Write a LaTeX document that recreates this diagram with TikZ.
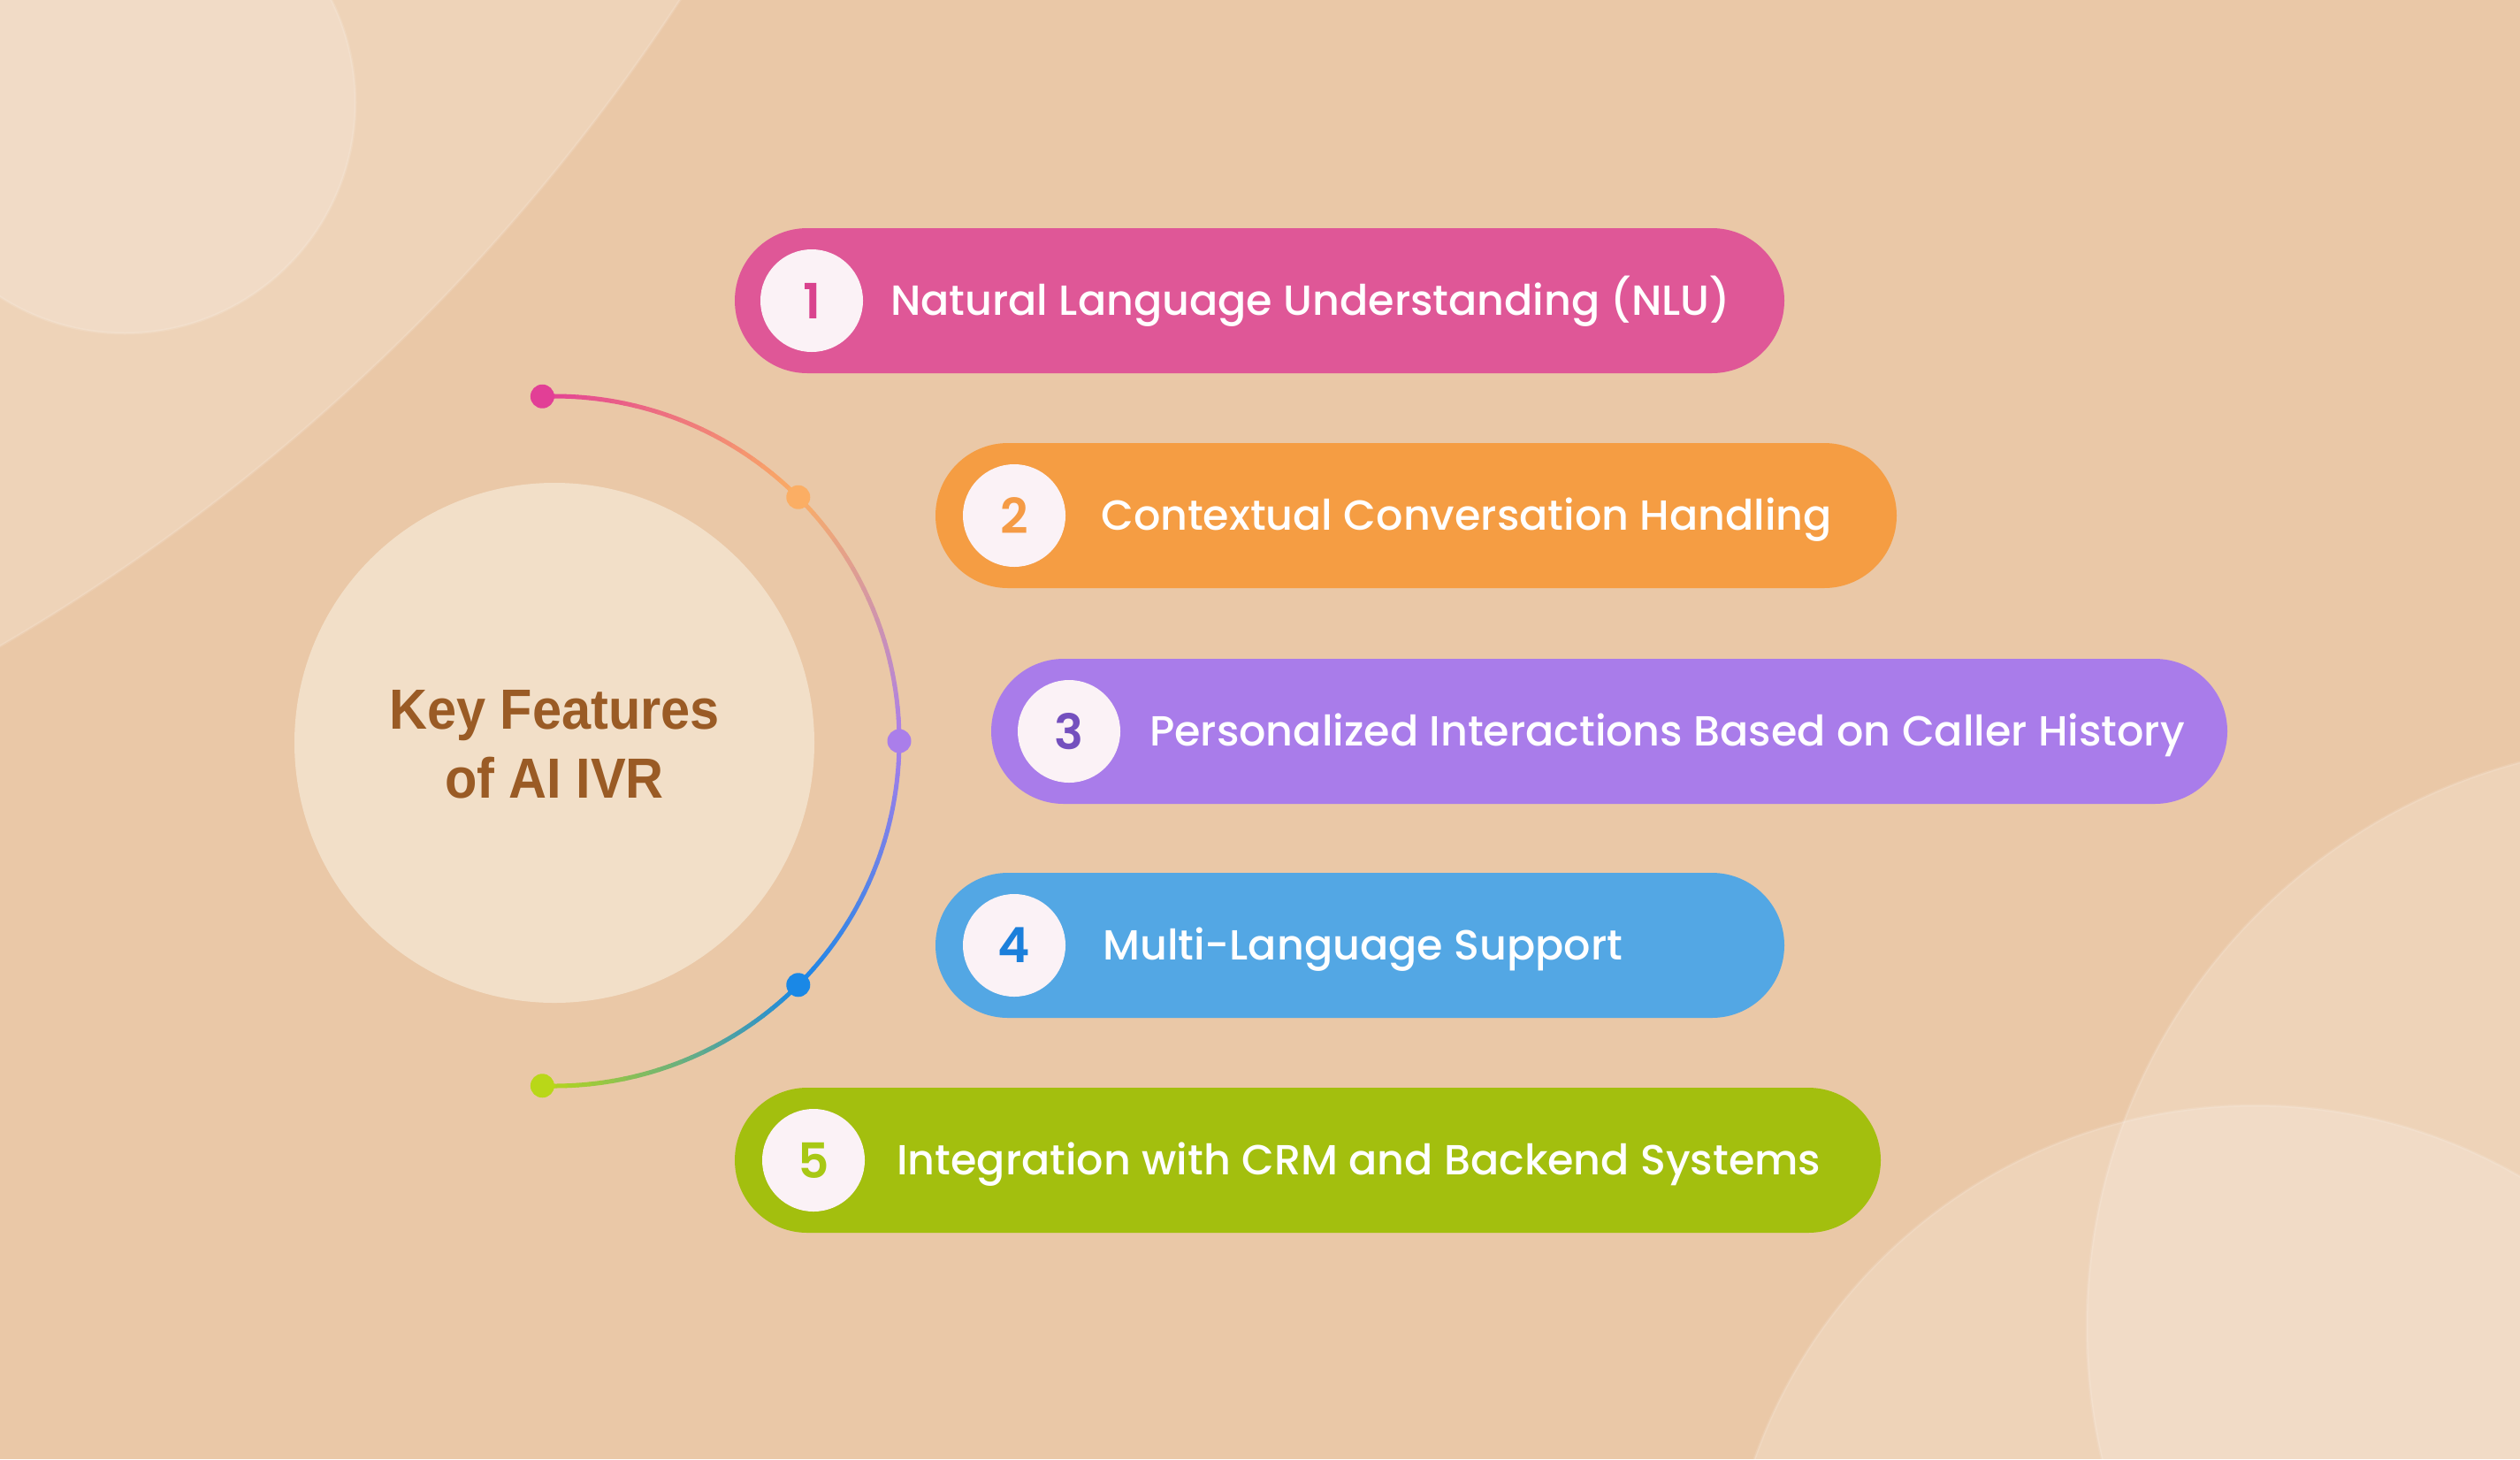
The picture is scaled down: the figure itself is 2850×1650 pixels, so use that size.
\documentclass[tikz,border=0pt]{standalone}
\usepackage{fontspec}
\usetikzlibrary{calc}
\newfontfamily\popm{Poppins Medium}
\newfontfamily\pops{Poppins SemiBold}
\newfontfamily\titlef{Liberation Sans}[FakeStretch=0.93]
\definecolor{bg}{HTML}{EAC8A7}
\definecolor{keycirc}{HTML}{F2DFC8}
\definecolor{titlec}{HTML}{9A5B25}
\definecolor{c1}{HTML}{DF5797}
\definecolor{c2}{HTML}{F59D43}
\definecolor{c3}{HTML}{A97CEA}
\definecolor{c4}{HTML}{53A7E4}
\definecolor{c5}{HTML}{A3BF0E}
\definecolor{n1}{HTML}{D9438E}
\definecolor{n2}{HTML}{F59B45}
\definecolor{n3}{HTML}{7450BE}
\definecolor{n4}{HTML}{1B7FDB}
\definecolor{n5}{HTML}{A8C814}
\definecolor{numbg}{HTML}{FBF2F6}
\definecolor{dpink}{HTML}{E23F96}
\definecolor{dorange}{HTML}{FBAE64}
\definecolor{dpurple}{HTML}{AA7EEA}
\definecolor{dblue}{HTML}{1A88E6}
\definecolor{dgreen}{HTML}{B9D718}
\begin{document}
\begin{tikzpicture}[x=1pt,y=-1pt,
  bgcirc/.style={fill=white, fill opacity=0.2, draw=white, draw opacity=0.12, line width=3pt},
  pill/.style={rectangle, rounded corners=82pt, minimum height=164pt, inner sep=0pt},
  numc/.style={circle, fill=numbg, minimum size=116pt, inner sep=0pt, font=\pops\fontsize{55}{55}\selectfont},
  lbl/.style={anchor=base west, inner sep=0pt, text=white, font=\popm\fontsize{47.6}{47.6}\selectfont},
  dotn/.style={circle, minimum size=27pt, inner sep=0pt},
  ttl/.style={text=titlec, font=\titlef\bfseries\fontsize{64}{78}\selectfont, align=center}
]
\path[use as bounding box, fill=bg] (0,0) rectangle (2850,1650);
\begin{scope}
\clip (0,0) rectangle (2850,1650);
\path[bgcirc] (-1150,-1250) circle[radius=2290];
\path[bgcirc] (141,116) circle[radius=261];
\path[bgcirc] (3020,1500) circle[radius=660];
\path[bgcirc] (2550,1850) circle[radius=600];
\end{scope}

% central circle
\node[circle, fill=keycirc, minimum size=588pt, inner sep=0pt] (key) at (627,840) {};
\node[ttl] (title) at (627,842) {Key Features\\of AI IVR};

% gradient arc
\coordinate (C) at (627,838);
\foreach \sa/\ea/\ca/\cb in {-92/-45/dpink/dorange, -45/0/dorange/dpurple, 0/45/dpurple/dblue, 45/92/dblue/dgreen}{
  \foreach \k in {0,...,23}{
    \pgfmathsetmacro\aa{\sa+(\ea-\sa)*\k/24}
    \pgfmathsetmacro\bb{\sa+(\ea-\sa)*(\k+1)/24}
    \pgfmathsetmacro\pc{100-100*(\k+0.5)/24}
    \draw[line width=5pt, line cap=round, color=\ca!\pc!\cb] ($(C)+(\aa:390)$) arc[start angle=\aa, end angle=\bb, radius=390];
  }
}
\node[dotn, fill=dpink] (d1) at ($(C)+(-92:390)$) {};
\node[dotn, fill=dorange] (d2) at ($(C)+(-45:390)$) {};
\node[dotn, fill=dpurple] (d3) at ($(C)+(0:390)$) {};
\node[dotn, fill=dblue] (d4) at ($(C)+(45:390)$) {};
\node[dotn, fill=dgreen] (d5) at ($(C)+(92:390)$) {};

% pills
\node[pill, fill=c1, minimum width=1187pt] (p1) at (1424.5,340) {};
\node[pill, fill=c2, minimum width=1087pt] (p2) at (1601.5,583) {};
\node[pill, fill=c3, minimum width=1398pt] (p3) at (1820,827) {};
\node[pill, fill=c4, minimum width=960pt] (p4) at (1538,1069) {};
\node[pill, fill=c5, minimum width=1296pt] (p5) at (1479,1312) {};

\node[numc, text=n1] (m1) at (918,340) {1};
\node[numc, text=n2] (m2) at (1147,583) {2};
\node[numc, text=n3] (m3) at (1209,827) {3};
\node[numc, text=n4] (m4) at (1147,1069) {4};
\node[numc, text=n5] (m5) at (920,1312) {5};

\node[lbl] (t1) at (1007,356) {Natural Language Understanding (NLU)};
\node[lbl] (t2) at (1245,599) {Contextual Conversation Handling};
\node[lbl] (t3) at (1300,843) {Personalized Interactions Based on Caller History};
\node[lbl] (t4) at (1247,1085) {Multi-Language Support};
\node[lbl] (t5) at (1014,1328) {Integration with CRM and Backend Systems};
\end{tikzpicture}
\end{document}
